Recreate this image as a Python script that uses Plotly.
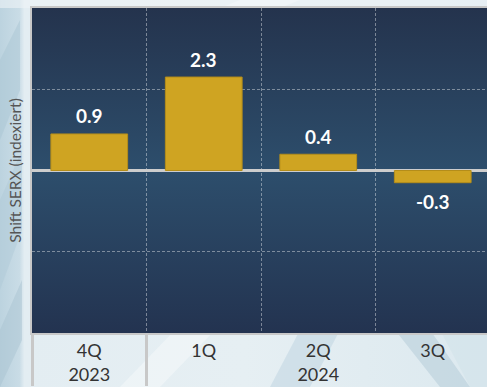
import base64
import plotly.graph_objects as go

# ---- data ----
years = ["2023", "2024", "2024", "2024"]
quarters = ["4Q", "1Q", "2Q", "3Q"]
values = [0.9, 2.3, 0.4, -0.3]
y_title = "Shift SERX (indexiert)"

W, H = 487, 387
ML, MR, MT, MB = 32, 0, 8, 54

# ---- decorative backgrounds (SVG data URIs) ----
bg_svg = f'''<svg xmlns="http://www.w3.org/2000/svg" width="{W}" height="{H}" viewBox="0 0 {W} {H}" preserveAspectRatio="none">
<defs>
<linearGradient id="g" x1="0" y1="0" x2="1" y2="0">
<stop offset="0" stop-color="#bcd3df"/>
<stop offset="0.04" stop-color="#c9dce6"/>
<stop offset="0.05" stop-color="#e3edf2"/>
<stop offset="0.5" stop-color="#e6eff3"/>
<stop offset="1" stop-color="#dce9ef"/>
</linearGradient>
</defs>
<rect width="{W}" height="{H}" fill="url(#g)"/>
<polygon points="0,60 20,20 20,90 0,140" fill="#aac5d4" opacity="0.5"/>
<polygon points="0,200 22,150 22,230 0,290" fill="#b0c9d7" opacity="0.5"/>
<polygon points="0,330 22,280 22,340 0,387" fill="#a9c3d2" opacity="0.5"/>
<polygon points="120,387 175,330 215,330 160,387" fill="#ffffff" opacity="0.35"/>
<polygon points="270,387 300,330 340,330 310,387" fill="#c3d7e2" opacity="0.6"/>
<polygon points="395,330 430,330 470,387 440,387" fill="#b9cfdb" opacity="0.6"/>
<polygon points="440,330 487,330 487,387 470,387" fill="#d2e2ea" opacity="0.6"/>
<polygon points="240,0 300,0 280,8 220,8" fill="#ffffff" opacity="0.5"/>
<rect x="0" y="0" width="{W}" height="8" fill="#eef4f7" opacity="0.6"/>
</svg>'''

plot_svg = '''<svg xmlns="http://www.w3.org/2000/svg" width="100" height="100" viewBox="0 0 100 100" preserveAspectRatio="none">
<defs>
<linearGradient id="p" x1="0" y1="0" x2="0" y2="1">
<stop offset="0" stop-color="#24334d"/>
<stop offset="0.5" stop-color="#2d4e6c"/>
<stop offset="1" stop-color="#233350"/>
</linearGradient>
</defs>
<rect width="100" height="100" fill="url(#p)"/>
</svg>'''


def uri(s):
    return "data:image/svg+xml;base64," + base64.b64encode(s.encode()).decode()


pw = W - ML - MR
ph = H - MT - MB

fig = go.Figure()
fig.add_trace(go.Bar(
    x=[years, quarters],
    y=values,
    marker=dict(color="#cfa422", line=dict(color="#b48d1a", width=1)),
    hoverinfo="skip",
))

for i, v in enumerate(values):
    fig.add_annotation(
        x=i, y=v, text=f"<b>{v:.1f}</b>", showarrow=False,
        yanchor="middle", yshift=18 if v >= 0 else -19,
        font=dict(family="Lato, sans-serif", size=19, color="white"),
    )

fig.update_layout(
    width=W, height=H,
    margin=dict(l=ML, r=MR, t=MT, b=MB, pad=0),
    paper_bgcolor="#e4eef2",
    plot_bgcolor="rgba(0,0,0,0)",
    showlegend=False,
    bargap=0.33,
    font=dict(family="Lato, sans-serif", color="#333333"),
    images=[
        dict(source=uri(bg_svg), xref="paper", yref="paper",
             x=-ML / pw, y=1 + MT / ph, sizex=W / pw, sizey=H / ph,
             xanchor="left", yanchor="top", sizing="stretch", layer="below"),
        dict(source=uri(plot_svg), xref="paper", yref="paper",
             x=0, y=1, sizex=1, sizey=1,
             xanchor="left", yanchor="top", sizing="stretch", layer="below"),
    ],
)

fig.update_xaxes(
    type="multicategory",
    range=[-0.5, 3.5 - 3 / 114.6],
    showgrid=True, gridcolor="rgba(255,255,255,0.4)", griddash="3px,2px", gridwidth=1,
    showline=True, linecolor="#c8c8c8", linewidth=2, mirror=True,
    showdividers=True, dividercolor="#c8c8c8", dividerwidth=3,
    ticks="", tickfont=dict(size=18, color="#333333"),
)

fig.update_yaxes(
    range=[-4, 4], dtick=2,
    showticklabels=False, ticks="",
    showgrid=True, gridcolor="rgba(255,255,255,0.4)", griddash="3px,2px", gridwidth=1,
    zeroline=True, zerolinecolor="#cdcdcd", zerolinewidth=3,
    showline=True, linecolor="#c8c8c8", linewidth=2,
    title=dict(text=y_title, font=dict(size=15.5, color="#555555"), standoff=5),
)

fig.write_html("out.html")
